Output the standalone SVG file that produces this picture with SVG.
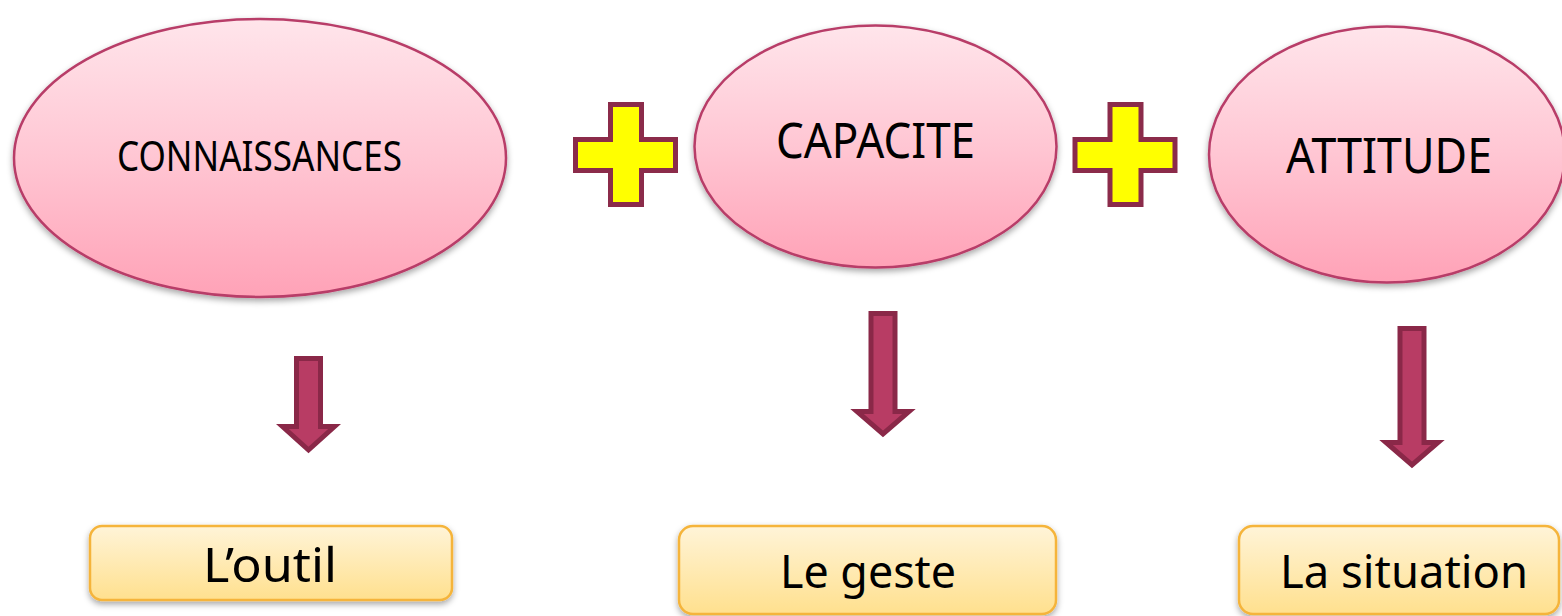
<svg xmlns="http://www.w3.org/2000/svg" xmlns:xlink="http://www.w3.org/1999/xlink" width="1562" height="616" viewBox="0 0 1562 616">
<defs>
<linearGradient id="pink" x1="0" y1="0" x2="0" y2="1">
<stop offset="0" stop-color="#ffe5eb"/>
<stop offset="0.5" stop-color="#ffc6d3"/>
<stop offset="1" stop-color="#ffa2b7"/>
</linearGradient>
<linearGradient id="gold" x1="0" y1="0" x2="0" y2="1">
<stop offset="0" stop-color="#fff4d8"/>
<stop offset="1" stop-color="#ffe08e"/>
</linearGradient>
<filter id="shadow" x="-10%" y="-10%" width="120%" height="130%">
<feDropShadow dx="0" dy="3" stdDeviation="3" flood-color="#000" flood-opacity="0.35"/>
</filter>
<path id="plus" d="M610.5,104.5 H641.5 V139.5 H675.5 V170.5 H641.5 V204.5 H610.5 V170.5 H575.5 V139.5 H610.5 Z"/>
</defs>
<style>
.ell{fill:url(#pink);stroke:#b83c68;stroke-width:2.5;filter:url(#shadow)}
.box{fill:url(#gold);stroke:#f5b43a;stroke-width:2.5;filter:url(#shadow)}
.lbl{font-family:"Noto Sans","Open Sans","DejaVu Sans",sans-serif;fill:#000;text-anchor:middle}
.arrow{fill:#b83c64;stroke:#8a2848;stroke-width:5;stroke-linejoin:miter}
.plus{fill:#ffff00;stroke:#8b2b4a;stroke-width:5}
</style>
<g id="node-connaissances">
<ellipse class="ell" cx="260" cy="158" rx="246" ry="139"/>
<text class="lbl" x="259.5" y="171" font-size="42" textLength="285" lengthAdjust="spacingAndGlyphs">CONNAISSANCES</text>
</g>
<g id="node-capacite">
<ellipse class="ell" cx="875.5" cy="146.5" rx="181" ry="121"/>
<text class="lbl" x="875.5" y="158" font-size="49" textLength="199" lengthAdjust="spacingAndGlyphs">CAPACITE</text>
</g>
<g id="node-attitude">
<ellipse class="ell" cx="1387" cy="154.5" rx="178" ry="128"/>
<text class="lbl" x="1389" y="173" font-size="49" textLength="206" lengthAdjust="spacingAndGlyphs">ATTITUDE</text>
</g>
<g id="plus-1">
<use xlink:href="#plus" href="#plus" class="plus"/>
</g>
<g id="plus-2">
<use xlink:href="#plus" href="#plus" class="plus" transform="translate(499.5,0)"/>
</g>
<g id="connectors">
<polygon class="arrow" points="296.5,358.5 320.5,358.5 320.5,426.5 334.5,426.5 308.5,450 282.5,426.5 296.5,426.5"/>
<polygon class="arrow" points="871,313.5 895,313.5 895,411.5 909,411.5 883,434 857,411.5 871,411.5"/>
<polygon class="arrow" points="1400,328.5 1424,328.5 1424,442.5 1438,442.5 1412,465 1386,442.5 1400,442.5"/>
</g>
<g id="node-outil">
<rect class="box" x="90" y="526" width="362" height="74" rx="12"/>
<text class="lbl" x="270" y="582" font-size="48" textLength="134" lengthAdjust="spacingAndGlyphs">L’outil</text>
</g>
<g id="node-geste">
<rect class="box" x="679" y="526" width="377" height="88" rx="14"/>
<text class="lbl" x="868" y="588" font-size="46" textLength="176" lengthAdjust="spacingAndGlyphs">Le geste</text>
</g>
<g id="node-situation">
<rect class="box" x="1239" y="526" width="320" height="88" rx="14"/>
<text class="lbl" x="1404" y="588" font-size="46" textLength="248" lengthAdjust="spacingAndGlyphs">La situation</text>
</g>
</svg>
